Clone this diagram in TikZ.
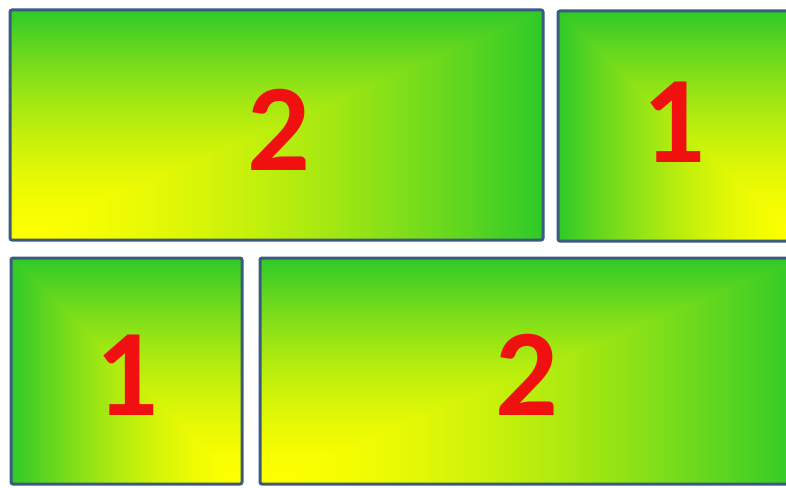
\documentclass[tikz,border=0pt]{standalone}
\usepackage{fontspec}
\setmainfont{Carlito}
\usetikzlibrary{shadings}
\definecolor{panelborder}{RGB}{58,90,128}
\definecolor{digitred}{RGB}{240,16,16}
% rectangular "from corner" gradient: yellow at the corner, green at the far edges
\pgfdeclarefunctionalshading{cornerBL}{\pgfpoint{0bp}{0bp}}{\pgfpoint{100bp}{100bp}}{}{%
  25 sub 50 div exch 25 sub 50 div
  2 copy lt {exch} if pop
  dup 0 lt {pop 0} if dup 1 gt {pop 1} if
  1.6 exp
  dup -0.82 mul 1 add exch dup -0.21 mul 1 add exch 0.16 mul
}
\pgfdeclarefunctionalshading{cornerBR}{\pgfpoint{0bp}{0bp}}{\pgfpoint{100bp}{100bp}}{}{%
  25 sub 50 div exch neg 75 add 50 div
  2 copy lt {exch} if pop
  dup 0 lt {pop 0} if dup 1 gt {pop 1} if
  1.6 exp
  dup -0.82 mul 1 add exch dup -0.21 mul 1 add exch 0.16 mul
}
\tikzset{
  panel/.style={draw=panelborder, line width=3pt, rounded corners=2pt},
  digit/.style={text=digitred, inner sep=0pt, anchor=base,
    font=\fontsize{124}{124}\selectfont\bfseries}
}
\begin{document}
\begin{tikzpicture}[x=1pt,y=-1pt]
\clip (0,0) rectangle (786,487);
\fill[white] (0,0) rectangle (786,487);
\path[panel, shading=cornerBL] (10,10) rectangle (543,240);
\path[panel, shading=cornerBR] (558,11) rectangle (800,241);
\path[panel, shading=cornerBR] (11,258) rectangle (242,484);
\path[panel, shading=cornerBL] (260,258) rectangle (800,484);
\node[digit] (d2a) at (279,170) {2};
\node[digit] (d1a) at (674,162) {1};
\node[digit] (d1b) at (127,415) {1};
\node[digit] (d2b) at (527,415) {2};
\end{tikzpicture}
\end{document}
